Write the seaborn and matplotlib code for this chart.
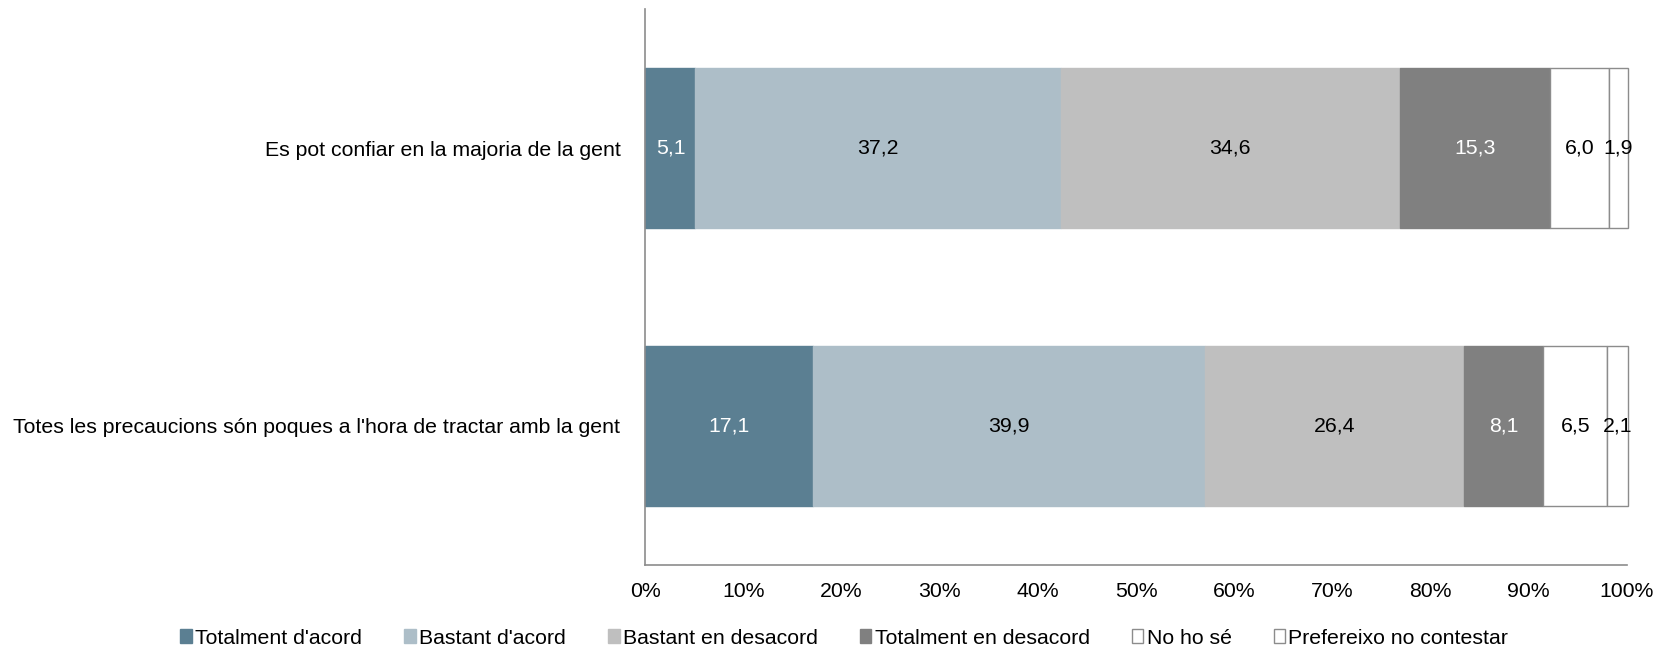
import matplotlib
matplotlib.use("Agg")
import matplotlib.pyplot as plt
import seaborn as sns
import numpy as np

# data
questions = ["Es pot confiar en la majoria de la gent",
             "Totes les precaucions són poques a l'hora de tractar amb la gent"]
answers = ["Totalment d'acord", "Bastant d'acord", "Bastant en desacord",
           "Totalment en desacord", "No ho sé", "Prefereixo no contestar"]
values = {
    "Totalment d'acord": [5.1, 17.1],
    "Bastant d'acord": [37.2, 39.9],
    "Bastant en desacord": [34.6, 26.4],
    "Totalment en desacord": [15.3, 8.1],
    "No ho sé": [6.0, 6.5],
    "Prefereixo no contestar": [1.9, 2.1],
}
colors = ["#5B7F92", "#ADBEC8", "#BFBFBF", "#808080", "#FFFFFF", "#FFFFFF"]
text_colors = ["white", "black", "black", "white", "black", "black"]

sns.set_theme(style="white")
plt.rcParams["font.family"] = ["Liberation Sans", "DejaVu Sans"]
plt.rcParams["text.color"] = "black"
plt.rcParams["xtick.color"] = "black"
plt.rcParams["ytick.color"] = "black"
fs = 15.3

fig, ax = plt.subplots(figsize=(16.72, 6.5), dpi=100)
fig.subplots_adjust(left=0.386, right=0.973, top=0.986, bottom=0.131)

ypos = np.arange(len(questions))
left = np.zeros(len(questions))
for ans, col, tcol in zip(answers, colors, text_colors):
    vals = np.array(values[ans])
    edge = "#8C8C8C" if col == "#FFFFFF" else col
    lw = 1.5 if col == "#FFFFFF" else 0
    ax.barh(ypos, vals, left=left, height=0.575, color=col, edgecolor=edge,
            linewidth=lw, label=ans, clip_on=False)
    for y, l, v in zip(ypos, left, vals):
        ax.text(l + v / 2, y, f"{v:.1f}".replace(".", ","), ha="center",
                va="center", color=tcol, fontsize=fs)
    left += vals

ax.set_xlim(0, 100)
ax.set_ylim(1.5, -0.5)
ax.set_yticks(ypos)
ax.set_yticklabels(questions, fontsize=fs)
ax.set_xticks(np.arange(0, 101, 10))
ax.set_xticklabels([f"{t}%" for t in range(0, 101, 10)], fontsize=fs)
ax.tick_params(axis="both", length=0)
ax.tick_params(axis="y", pad=18)
ax.tick_params(axis="x", pad=12)
for s in ["top", "right"]:
    ax.spines[s].set_visible(False)
for s in ["left", "bottom"]:
    ax.spines[s].set_color("#8C8C8C")
    ax.spines[s].set_linewidth(1.2)

handles, labels = ax.get_legend_handles_labels()
for h in handles:
    for p in h.patches:
        p.set_linewidth(1.0)
leg = fig.legend(handles, labels, loc="lower center", bbox_to_anchor=(0.505, -0.026),
                 ncol=6, frameon=False, fontsize=fs, handlelength=0.55,
                 handleheight=0.65, handletextpad=0.15, columnspacing=1.98)

fig.savefig("out.png", dpi=100)
